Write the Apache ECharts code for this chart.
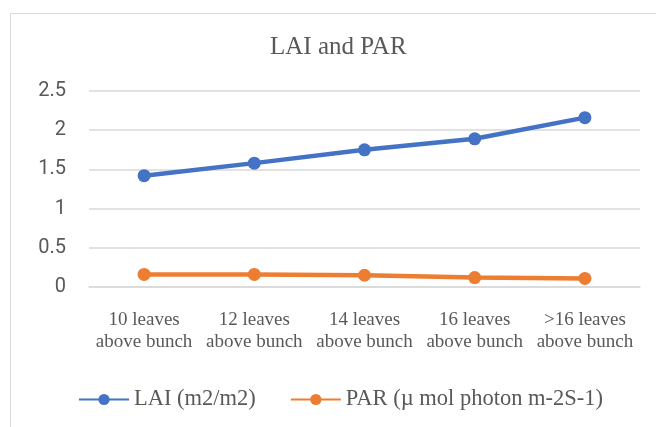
<!DOCTYPE html>
<html>
<head>
<meta charset="utf-8">
<script src="https://cdn.jsdelivr.net/npm/echarts@6/dist/echarts.min.js"></script>
<style>html,body{margin:0;padding:0;background:#fff;}#c{width:656px;height:427px;}</style>
</head>
<body>
<div id="c"></div>
<script>
var categories = ['10 leaves\nabove bunch', '12 leaves\nabove bunch', '14 leaves\nabove bunch', '16 leaves\nabove bunch', '>16 leaves\nabove bunch'];
var laiValues = [1.42, 1.58, 1.75, 1.89, 2.16];
var parValues = [0.16, 0.16, 0.15, 0.12, 0.11];
var seriesNames = ['LAI (m2/m2)', 'PAR (\u00b5 mol photon m-2S-1)'];
var titleText = 'LAI and PAR';

var chart = echarts.init(document.getElementById('c'), null, {renderer: 'canvas'});
var serif = '"Liberation Serif", "Times New Roman", serif';
chart.setOption({
  animation: false,
  backgroundColor: '#fff',
  graphic: [{
    type: 'rect', silent: true, z: -1,
    shape: {x: 10.5, y: 13.5, width: 800, height: 600},
    style: {fill: 'none', stroke: '#d9d9d9', lineWidth: 1}
  }],
  title: {
    text: titleText, left: 265, top: 30,
    textStyle: {fontFamily: serif, fontSize: 25, fontWeight: 'normal', color: '#595959'}
  },
  legend: {
    bottom: 11, left: 73, itemWidth: 50, itemHeight: 14, itemGap: 34,
    textStyle: {fontFamily: serif, fontSize: 22.5, color: '#595959'},
    data: seriesNames
  },
  grid: {left: 89, right: 16, top: 91, bottom: 140},
  xAxis: {
    type: 'category', data: categories, boundaryGap: true,
    axisLine: {lineStyle: {color: '#d9d9d9', width: 1.5}},
    axisTick: {show: false},
    axisLabel: {fontFamily: serif, fontSize: 19, color: '#595959', lineHeight: 22, margin: 22, interval: 0}
  },
  yAxis: {
    type: 'value', min: 0, max: 2.5, interval: 0.5,
    axisLine: {show: false}, axisTick: {show: false},
    splitLine: {lineStyle: {color: '#d9d9d9', width: 1.5}},
    axisLabel: {fontFamily: 'Roboto, sans-serif', fontSize: 20, color: '#595959', margin: 23}
  },
  series: [{
    name: seriesNames[0], type: 'line', data: laiValues,
    symbol: 'circle', symbolSize: 13,
    lineStyle: {width: 4.5, color: '#4472C4'},
    itemStyle: {color: '#4472C4'}
  }, {
    name: seriesNames[1], type: 'line', data: parValues,
    symbol: 'circle', symbolSize: 13,
    lineStyle: {width: 4.5, color: '#ED7D31'},
    itemStyle: {color: '#ED7D31'}
  }]
});
</script>
</body>
</html>
